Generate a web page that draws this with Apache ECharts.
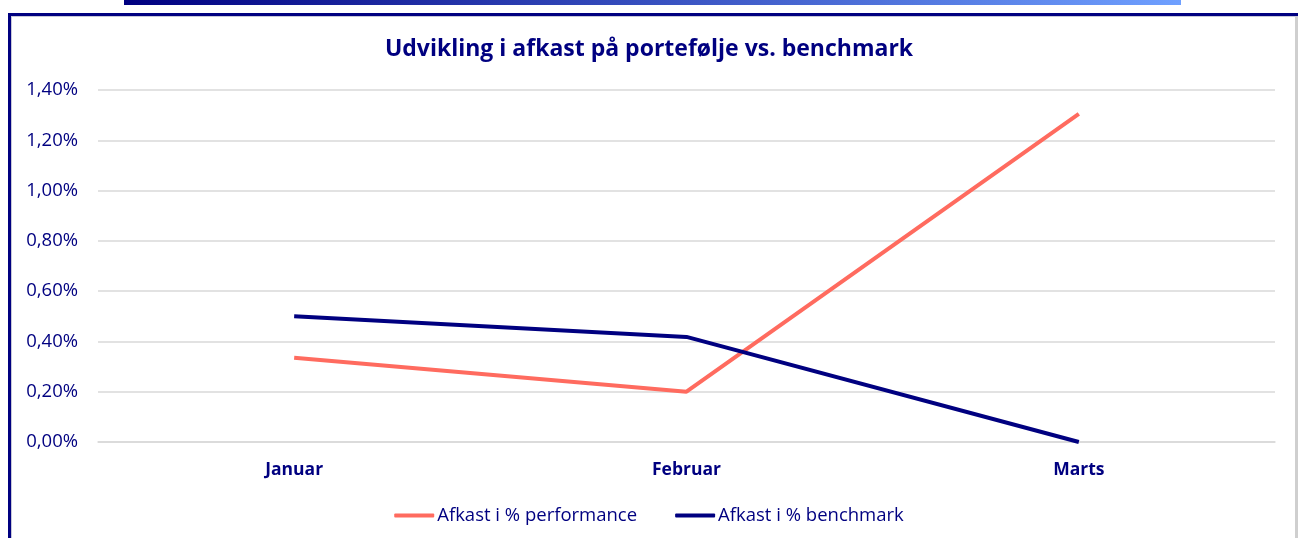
<!DOCTYPE html>
<html><head><meta charset="utf-8">
<script src="https://cdn.jsdelivr.net/npm/echarts@6/dist/echarts.min.js"></script>
<style>html,body{margin:0;padding:0;background:#fff}#c{width:1298px;height:538px}</style>
</head><body><div id="c"></div>
<script>
const categories = ['Januar', 'Februar', 'Marts'];
const performance = [0.335, 0.20, 1.305];
const benchmark = [0.50, 0.418, 0.00];
const yTicks = [0, 0.2, 0.4, 0.6, 0.8, 1.0, 1.2, 1.4];
const seriesNames = ['Afkast i % performance', 'Afkast i % benchmark'];

const navy = '#000080';
const salmon = '#FF6B5F';
const font = '"Open Sans", Lato, sans-serif';

const chart = echarts.init(document.getElementById('c'));
chart.setOption({
  animation: false,
  backgroundColor: '#fff',
  graphic: [
    { type: 'rect', shape: { x: 124, y: 0, width: 1057, height: 5 },
      style: { fill: new echarts.graphic.LinearGradient(0, 0, 1, 0, [
        { offset: 0, color: '#000080' }, { offset: 1, color: '#6FA0FF' }]) }, silent: true },
    { type: 'rect', shape: { x: 8, y: 13, width: 1290, height: 3 }, style: { fill: navy }, silent: true },
    { type: 'rect', shape: { x: 8, y: 16, width: 1290, height: 1 }, style: { fill: '#c8c8d8' }, silent: true },
    { type: 'rect', shape: { x: 8, y: 13, width: 3, height: 530 }, style: { fill: navy }, silent: true },
    { type: 'rect', shape: { x: 11, y: 16, width: 1, height: 530 }, style: { fill: '#c8c8d8' }, silent: true },
    { type: 'rect', shape: { x: 1295, y: 17, width: 3, height: 530 }, style: { fill: '#cfcfcf' }, silent: true }
  ],
  title: {
    text: 'Udvikling i afkast på portefølje vs. benchmark',
    left: 'center', top: 33,
    textStyle: { color: navy, fontFamily: font, fontWeight: 'bold', fontSize: 23 }
  },
  legend: {
    data: seriesNames,
    bottom: 8, left: 'center',
    itemWidth: 40, itemHeight: 4, itemGap: 38,
    icon: 'roundRect',
    textStyle: { color: navy, fontFamily: font, fontSize: 18.5, padding: [0, 0, 0, -2] }
  },
  grid: { left: 98, right: 23, top: 90, bottom: 96, containLabel: false },
  xAxis: {
    type: 'category', data: categories, boundaryGap: true,
    axisLine: { show: true, lineStyle: { color: '#d9d9d9', width: 1.5 } },
    axisTick: { show: false },
    axisLabel: { color: navy, fontFamily: font, fontWeight: 'bold', fontSize: 17.5, margin: 19 }
  },
  yAxis: {
    type: 'value', min: 0, max: 1.4, interval: 0.2,
    axisLine: { show: false }, axisTick: { show: false },
    splitLine: { lineStyle: { color: '#d9d9d9', width: 1.5 } },
    axisLabel: {
      color: navy, fontFamily: font, fontSize: 18.5, margin: 20,
      formatter: v => v.toFixed(2).replace('.', ',') + '%'
    }
  },
  series: [
    { name: seriesNames[0], type: 'line', data: performance, symbol: 'none',
      lineStyle: { color: salmon, width: 4 }, itemStyle: { color: salmon } },
    { name: seriesNames[1], type: 'line', data: benchmark, symbol: 'none',
      lineStyle: { color: navy, width: 4 }, itemStyle: { color: navy } }
  ]
});
</script></body></html>
